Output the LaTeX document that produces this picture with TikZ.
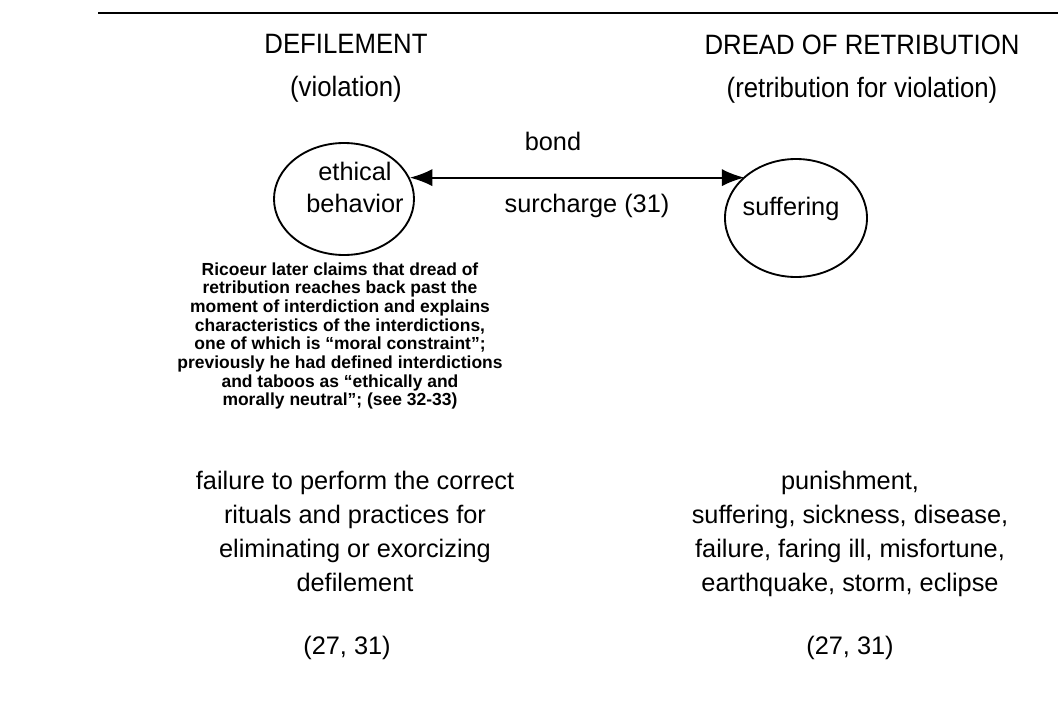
\documentclass[tikz,border=0pt]{standalone}
\usepackage{fontspec}
\setmainfont{Liberation Sans}
\newfontfamily\headfont[FakeStretch=0.92]{Liberation Sans}
\usetikzlibrary{arrows.meta,shapes.geometric}

\begin{document}
\begin{tikzpicture}[x=0.75pt,y=-0.75pt,
	heading/.style={align=center,inner sep=0pt,font=\headfont\fontsize{21}{32.25}\selectfont},
	txt/.style={align=center,inner sep=0pt,font=\fontsize{19}{24}\selectfont},
	block/.style={txt,font=\fontsize{19}{25.5}\selectfont},
	note/.style={align=center,inner sep=0pt,font=\bfseries\fontsize{13.1}{14}\selectfont},
	bubble/.style={draw,ellipse,line width=1.4pt,inner sep=0pt},
	bondarrow/.style={{Latex[length=17pt,width=13pt]}-{Latex[length=17pt,width=13pt]},line width=1.5pt}]
			\useasboundingbox (0,0) rectangle (1058,728);
			%%%%% START %%%%%
			\coordinate (ruleL) at (98,13);
			\coordinate (ruleR) at (1058,13);
			\draw[line width=1.5pt] (ruleL) -- (ruleR);
			
			\node[heading] (defl) at (346,68) {DEFILEMENT\\(violation)};
			\node[heading] (dread) at (862,69) {DREAD OF RETRIBUTION\\(retribution for violation)};
			
			\node[bubble,minimum width=105pt,minimum height=84pt] (ethic) at (344,199) {};
			\node[txt] (ethictxt) at (355,187) {ethical\\behavior};
			
			\node[bubble,minimum width=106.5pt,minimum height=88.5pt] (suff) at (796,218) {};
			\node[txt] (sufftxt) at (791,209) {suffering};
			
			\draw[bondarrow] (ethic.18) -- (suff.141 |- ethic.18);
			\node[txt,anchor=base] (bond) at (553,150) {bond};
			\node[txt,anchor=base] (surch) at (587,212) {surcharge (31)};
			
			\node[note] (ricoeur) at (340,336) {Ricoeur later claims that dread of\\retribution reaches back past the\\moment of interdiction and explains\\characteristics of the interdictions,\\one of which is “moral constraint”;\\previously he had defined interdictions\\and taboos as “ethically and\\morally neutral”; (see 32-33)};
			
			\node[block] (failure) at (355,531) {failure to perform the correct\\rituals and practices for\\eliminating or exorcizing\\defilement};
			\node[block] (punish) at (850,533.5) {punishment,\\suffering, sickness, disease,\\failure, faring ill, misfortune,\\earthquake, storm, eclipse};
			
			\node[txt,anchor=base] (refL) at (347,654) {(27, 31)};
			\node[txt,anchor=base] (refR) at (850,654) {(27, 31)};
			%%%%% END %%%%%
\end{tikzpicture}
\end{document}
